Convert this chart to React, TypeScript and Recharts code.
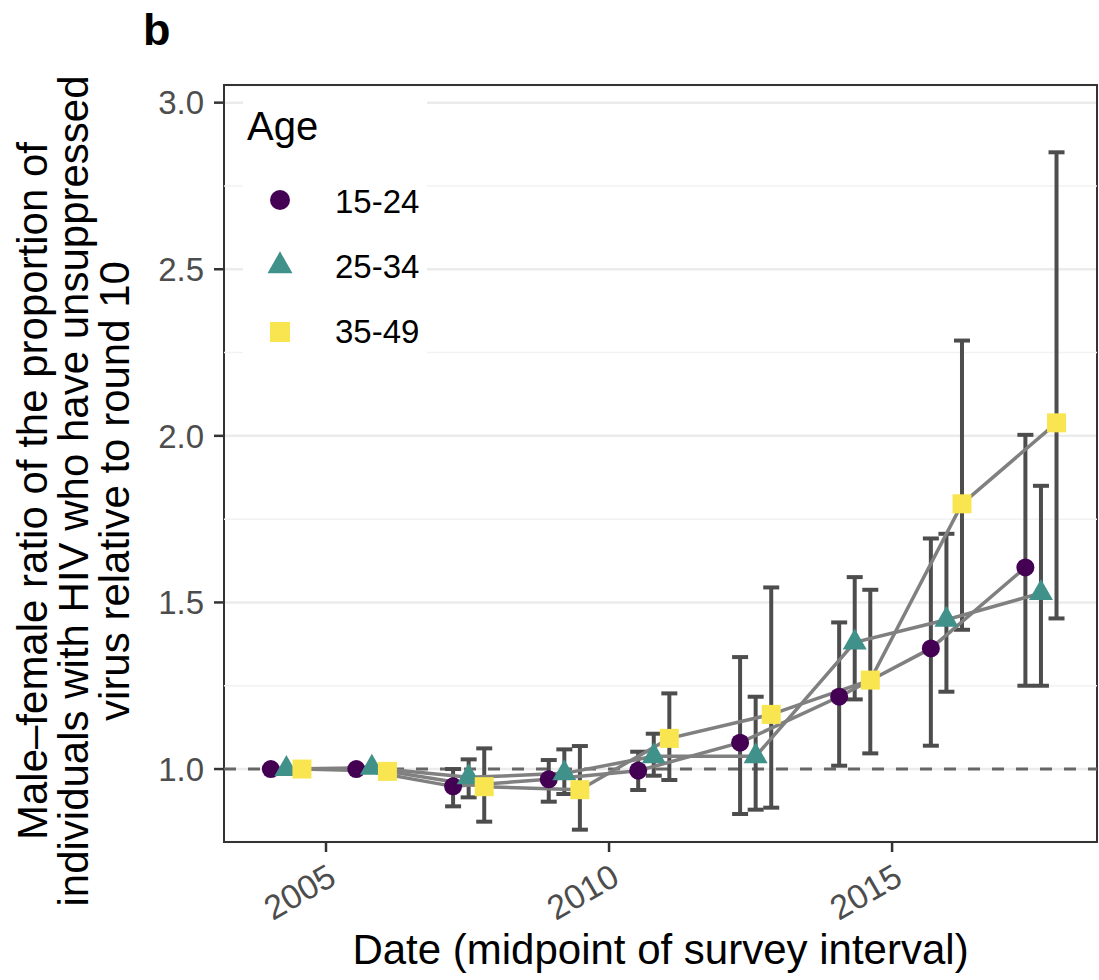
import React from 'react';
import {
  ComposedChart,
  Scatter,
  XAxis,
  YAxis,
  CartesianGrid,
  ReferenceLine,
  ReferenceArea,
  ErrorBar,
  Legend,
  Label,
} from 'recharts';

// Survey round midpoints (decimal years)
const surveyMidpoints = [2004.3, 2005.81, 2007.52, 2009.21, 2010.79, 2012.59, 2014.34, 2015.96, 2017.63];

const ageGroups = ['15-24', '25-34', '35-49'];

// Male-female ratio relative to round 10, with 95% interval bounds
const ratio1524 = [1.0, 1.0, 0.948, 0.969, 0.995, 1.079, 1.217, 1.362, 1.605];
const lower1524 = [null, null, 0.888, 0.902, 0.937, 0.865, 1.01, 1.07, 1.25];
const upper1524 = [null, null, 1.0, 1.027, 1.052, 1.336, 1.44, 1.692, 2.003];

const ratio2534 = [1.0, 1.004, 0.975, 0.987, 1.038, 1.038, 1.38, 1.448, 1.528];
const lower2534 = [null, null, 0.915, 0.925, 0.98, 0.878, 1.209, 1.232, 1.25];
const upper2534 = [null, null, 1.029, 1.059, 1.106, 1.217, 1.576, 1.706, 1.85];

const ratio3549 = [1.0, 0.993, 0.947, 0.938, 1.092, 1.164, 1.267, 1.796, 2.039];
const lower3549 = [null, null, 0.842, 0.818, 0.967, 0.884, 1.047, 1.418, 1.452];
const upper3549 = [null, null, 1.062, 1.069, 1.227, 1.545, 1.538, 2.286, 2.851];

const xTicks = [2005, 2010, 2015];
const yTicks = [1.0, 1.5, 2.0, 2.5, 3.0];
const yMinorTicks = [1.25, 1.75, 2.25, 2.75];
const referenceRatio = 1.0;

const X_DOMAIN: [number, number] = [2003.198, 2018.62];
const Y_DOMAIN: [number, number] = [0.781, 3.053];

const DODGE = 0.275; // horizontal dodge between age groups, in years
const COLORS = ['#440154', '#41918b', '#f9e54f'];
const FONT = '"Liberation Sans", Arial, Helvetica, sans-serif';

type Row = { date: number; ratio: number; err: [number, number] | null };

const buildSeries = (
  ratio: number[],
  lower: (number | null)[],
  upper: (number | null)[],
  k: number
): Row[] =>
  ratio.map((v, i) => ({
    date: surveyMidpoints[i] + k * DODGE,
    ratio: v,
    err: lower[i] == null || upper[i] == null ? null : [v - (lower[i] as number), (upper[i] as number) - v],
  }));

const series = [
  { name: ageGroups[0], data: buildSeries(ratio1524, lower1524, upper1524, -1) },
  { name: ageGroups[1], data: buildSeries(ratio2534, lower2534, upper2534, 0) },
  { name: ageGroups[2], data: buildSeries(ratio3549, lower3549, upper3549, 1) },
];

const Marker = ({ idx, cx, cy, legend }: { idx: number; cx: number; cy: number; legend?: boolean }) => {
  if (cx == null || cy == null) return <g />;
  if (idx === 0) {
    return <circle cx={cx} cy={cy} r={legend ? 10 : 9} fill={COLORS[0]} />;
  }
  if (idx === 1) {
    const h = legend ? 22 : 21;
    const w = legend ? 25 : 24;
    return (
      <polygon
        points={`${cx},${cy - (2 * h) / 3} ${cx - w / 2},${cy + h / 3} ${cx + w / 2},${cy + h / 3}`}
        fill={COLORS[1]}
      />
    );
  }
  const s = legend ? 20 : 19;
  return <rect x={cx - s / 2} y={cy - s / 2} width={s} height={s} fill={COLORS[2]} />;
};

const XTick = (props: any) => {
  const { x, y, payload } = props;
  const ax = x;
  const ay = y + 8;
  return (
    <text
      x={ax}
      y={ay}
      dy="0.72em"
      textAnchor="end"
      transform={`rotate(-30, ${ax}, ${ay})`}
      fontSize={34}
      fill="#4d4d4d"
      fontFamily={FONT}
    >
      {payload.value}
    </text>
  );
};

const XTitle = (props: any) => {
  const vb = props.viewBox || { x: 224, y: 842, width: 873 };
  return (
    <text
      x={vb.x + vb.width / 2}
      y={vb.y + 122}
      textAnchor="middle"
      fontSize={42}
      fill="#000"
      fontFamily={FONT}
    >
      Date (midpoint of survey interval)
    </text>
  );
};

const yTitleLines = [
  'Male\u2013female ratio of the proportion of',
  'individuals with HIV who have unsuppressed',
  'virus relative to round 10',
];

const YTitle = () => {
  const cy = 491;
  return (
    <g>
      <text x={143} y={45} fontSize={45} fontWeight="bold" fill="#000" fontFamily={FONT}>
        b
      </text>
      <text transform="rotate(-90)" textAnchor="middle" fontSize={42} fill="#000" fontFamily={FONT}>
        {yTitleLines.map((line, i) => (
          <tspan key={i} x={-cy} y={47 + i * 41}>
            {line}
          </tspan>
        ))}
      </text>
    </g>
  );
};

const LegendBox = () => (
  <div style={{ background: '#fff', width: 184, height: 270 }}>
    <svg width={184} height={270} style={{ display: 'block' }}>
      <text x={4} y={47} fontSize={40} fill="#000" fontFamily={FONT}>
        Age
      </text>
      {ageGroups.map((g, i) => (
        <g key={g}>
          <Marker idx={i} cx={37} cy={107 + i * 66} legend />
          <text x={92} y={120 + i * 65} fontSize={33} fill="#000" fontFamily={FONT}>
            {g}
          </text>
        </g>
      ))}
    </svg>
  </div>
);

const noShape = () => <g />;

export default function App() {
  return (
    <div style={{ position: 'absolute', left: 0, top: 0, width: 1099, height: 980, background: '#fff' }}>
      <ComposedChart width={1099} height={980} margin={{ top: 85, right: 2, bottom: 78, left: 0 }}>
        <CartesianGrid vertical={false} stroke="#ebebeb" strokeWidth={2.5} />
        {yMinorTicks.map((v) => (
          <ReferenceLine key={v} y={v} stroke="#f2f2f2" strokeWidth={1.5} />
        ))}
        <XAxis
          type="number"
          dataKey="date"
          domain={X_DOMAIN}
          ticks={xTicks}
          interval={0}
          allowDataOverflow
          height={60}
          tickSize={10}
          tickLine={{ stroke: '#333', strokeWidth: 2.5 }}
          axisLine={false}
          tick={<XTick />}
          label={<Label content={<XTitle />} />}
        />
        <YAxis
          type="number"
          dataKey="ratio"
          domain={Y_DOMAIN}
          ticks={yTicks}
          interval={0}
          allowDataOverflow
          width={224}
          tickSize={10}
          tickMargin={10}
          tickLine={{ stroke: '#333', strokeWidth: 2.5 }}
          axisLine={false}
          tickFormatter={(v: number) => v.toFixed(1)}
          tick={{ fontSize: 33, fill: '#4d4d4d', fontFamily: FONT }}
          label={<Label content={<YTitle />} />}
        />
        <ReferenceLine y={referenceRatio} stroke="#666" strokeWidth={3} strokeDasharray="12 12" />
        <ReferenceArea
          x1={X_DOMAIN[0]}
          x2={X_DOMAIN[1]}
          y1={Y_DOMAIN[0]}
          y2={Y_DOMAIN[1]}
          fill="none"
          fillOpacity={0}
          stroke="#333"
          strokeWidth={2}
          ifOverflow="visible"
        />
        {series.map((s) => (
          <Scatter
            key={`line-${s.name}`}
            data={s.data}
            line={{ stroke: '#808080', strokeWidth: 3.5 }}
            lineType="joint"
            shape={noShape}
            legendType="none"
            isAnimationActive={false}
          />
        ))}
        {series.map((s) => (
          <Scatter
            key={`err-${s.name}`}
            data={s.data}
            shape={noShape}
            legendType="none"
            isAnimationActive={false}
          >
            <ErrorBar dataKey="err" direction="y" width={8} stroke="#4d4d4d" strokeWidth={4} isAnimationActive={false} />
          </Scatter>
        ))}
        {series.map((s, idx) => (
          <Scatter
            key={`pts-${s.name}`}
            name={s.name}
            data={s.data}
            shape={(p: any) => <Marker idx={idx} cx={p.cx} cy={p.cy} />}
            isAnimationActive={false}
          />
        ))}
        <Legend
          layout="vertical"
          align="center"
          verticalAlign="middle"
          wrapperStyle={{ left: 243, top: 93, width: 184, height: 270 }}
          content={<LegendBox />}
        />
      </ComposedChart>
    </div>
  );
}
